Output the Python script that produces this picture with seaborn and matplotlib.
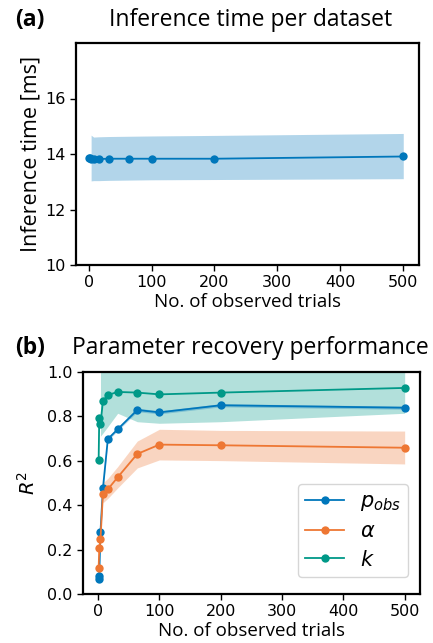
import numpy as np
import pandas as pd
import matplotlib
matplotlib.use("Agg")
import matplotlib.pyplot as plt
import seaborn as sns
from matplotlib.lines import Line2D

# ---------------- data ----------------
trials = [1, 2, 4, 8, 16, 32, 64, 100, 200, 500]

time_mean = [13.84, 13.84, 13.83, 13.82, 13.82, 13.83, 13.83, 13.83, 13.83, 13.91]
time_lo = [np.nan, np.nan, 13.03, 13.04, 13.04, 13.05, 13.06, 13.07, 13.08, 13.11]
time_hi = [np.nan, np.nan, 14.68, 14.61, 14.62, 14.63, 14.64, 14.65, 14.67, 14.74]

r2_pobs = [0.066, 0.081, 0.28, 0.475, 0.697, 0.741, 0.828, 0.817, 0.849, 0.838]
r2_pobs_lo = [np.nan, np.nan, 0.272, 0.468, 0.690, 0.734, 0.820, 0.810, 0.842, 0.831]
r2_pobs_hi = [np.nan, np.nan, 0.288, 0.482, 0.704, 0.748, 0.836, 0.824, 0.856, 0.845]

r2_alpha = [0.118, 0.205, 0.247, 0.45, 0.471, 0.525, 0.63, 0.672, 0.669, 0.658]
r2_alpha_lo = [np.nan, np.nan, np.nan, 0.41, 0.43, 0.477, 0.567, 0.603, 0.600, 0.585]
r2_alpha_hi = [np.nan, np.nan, np.nan, 0.50, 0.52, 0.573, 0.688, 0.741, 0.736, 0.733]

r2_k = [0.603, 0.793, 0.765, 0.868, 0.895, 0.909, 0.906, 0.898, 0.906, 0.927]
r2_k_lo = [np.nan, np.nan, 0.71, 0.724, 0.753, 0.813, 0.775, 0.768, 0.775, 0.813]
r2_k_hi = [np.nan, np.nan, 1.05, 1.05, 1.05, 1.05, 1.05, 1.05, 1.05, 1.05]

series_names = ["p_obs", "alpha", "k"]
series_labels = [r"$p_{obs}$", r"$\alpha$", r"$k$"]
colors = {"p_obs": "#0077BB", "alpha": "#EE7733", "k": "#009988"}

# ---------------- figure ----------------
W, H = 433, 643
fig = plt.figure(figsize=(W / 100, H / 100), dpi=100)

LABEL_FONT = ["Open Sans", "DejaVu Sans"]
TICK_FS = 11.5


def ax_rect(l, t, r, b):
    return [l / W, 1 - b / H, (r - l) / W, (b - t) / H]


def style_axes(ax):
    for s in ax.spines.values():
        s.set_linewidth(1.6)
        s.set_color("black")
    ax.tick_params(axis="both", labelsize=TICK_FS, length=4, width=1.0, color="black")
    ax.set_facecolor("white")


# ---- panel (a)
ax1 = fig.add_axes(ax_rect(76, 43, 419, 265))
df_time = pd.DataFrame({"trials": trials, "time": time_mean})
ax1.fill_between(trials, time_lo, time_hi, color=colors["p_obs"], alpha=0.3, linewidth=0)
sns.lineplot(data=df_time, x="trials", y="time", ax=ax1, color=colors["p_obs"],
             marker="o", markersize=6, markeredgewidth=0, linewidth=1.3, legend=False)
ax1.set_xlim(-20, 525)
ax1.set_ylim(10, 18)
ax1.set_yticks([10, 12, 14, 16])
ax1.set_xticks([0, 100, 200, 300, 400, 500])
style_axes(ax1)
ax1.set_xlabel("No. of observed trials", fontsize=13.5, family=LABEL_FONT)
ax1.set_ylabel("Inference time [ms]", fontsize=15.5, family=LABEL_FONT)
ax1.xaxis.set_label_coords(0.5, -0.125)
ax1.yaxis.set_label_coords(-0.1, 0.5)

fig.text(15 / W, 1 - 26 / H, "(a)", fontsize=16.5, fontweight="bold", family=LABEL_FONT,
         ha="left", va="baseline")
fig.text(251 / W, 1 - 26 / H, "Inference time per dataset", fontsize=16.5, family=LABEL_FONT,
         ha="center", va="baseline")

# ---- panel (b)
ax2 = fig.add_axes(ax_rect(82.7, 371.7, 420, 594))
df_r2 = pd.DataFrame({
    "trials": trials * 3,
    "r2": r2_pobs + r2_alpha + r2_k,
    "param": ["p_obs"] * len(trials) + ["alpha"] * len(trials) + ["k"] * len(trials),
})
bands = {"p_obs": (r2_pobs_lo, r2_pobs_hi), "alpha": (r2_alpha_lo, r2_alpha_hi),
         "k": (r2_k_lo, r2_k_hi)}
for name in ["k", "alpha", "p_obs"]:
    lo, hi = bands[name]
    ax2.fill_between(trials, lo, hi, color=colors[name], alpha=0.3, linewidth=0)
sns.lineplot(data=df_r2, x="trials", y="r2", hue="param", hue_order=series_names,
             palette=colors, ax=ax2, marker="o", markersize=6, markeredgewidth=0,
             linewidth=1.3, legend=False)
ax2.set_xlim(-25, 525)
ax2.set_ylim(0, 1)
ax2.set_yticks([0.0, 0.2, 0.4, 0.6, 0.8, 1.0])
ax2.set_xticks([0, 100, 200, 300, 400, 500])
style_axes(ax2)
ax2.set_xlabel("No. of observed trials", fontsize=13.5, family=LABEL_FONT)
ax2.set_ylabel(r"$R^2$", fontsize=14)
ax2.xaxis.set_label_coords(0.5, -0.125)
ax2.yaxis.set_label_coords(-0.13, 0.5)

handles = [Line2D([0], [0], color=colors[n], marker="o", markersize=6,
                  markeredgewidth=0, linewidth=1.3) for n in series_names]
leg = ax2.legend(handles, series_labels, loc="lower right", bbox_to_anchor=(0.965, 0.077),
                 borderaxespad=0, fontsize=15, handlelength=1.9, handletextpad=0.75,
                 labelspacing=0.4, borderpad=0.35, frameon=True)

fig.text(15 / W, 1 - 354 / H, "(b)", fontsize=16.5, fontweight="bold", family=LABEL_FONT,
         ha="left", va="baseline")
fig.text(250 / W, 1 - 354 / H, "Parameter recovery performance", fontsize=16.5,
         family=LABEL_FONT, ha="center", va="baseline")

fig.savefig("out.png", dpi=100)
